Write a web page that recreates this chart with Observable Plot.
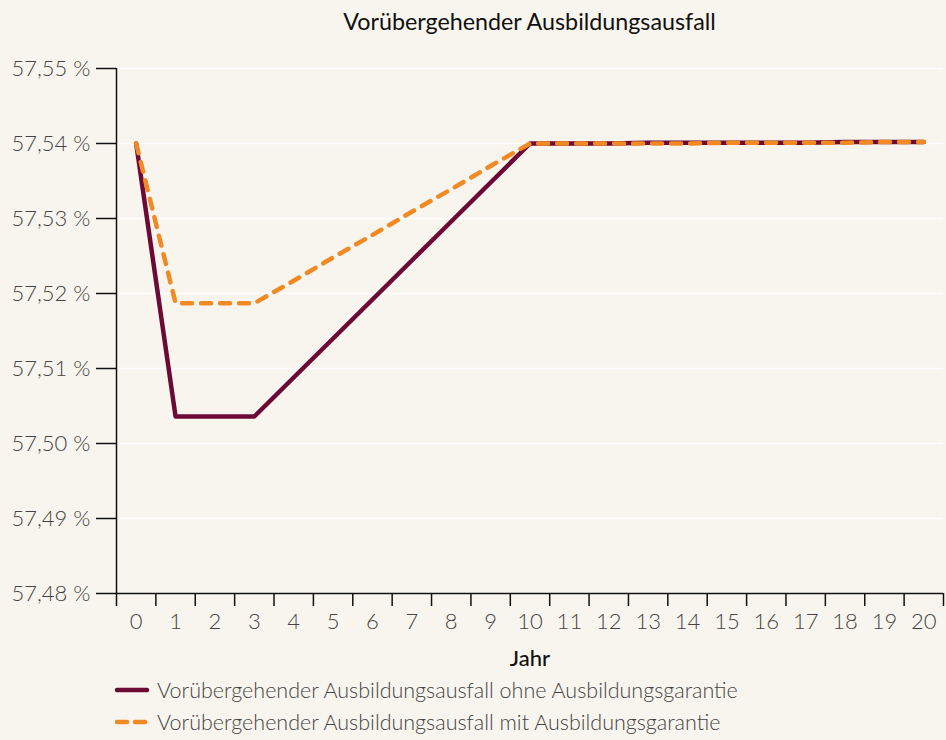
<!DOCTYPE html>
<html><head><meta charset="utf-8">
<script src="https://cdn.jsdelivr.net/npm/d3@7"></script>
<script src="https://cdn.jsdelivr.net/npm/@observablehq/plot@0.6"></script>
<style>
body{margin:0;background:#f8f5ee;font-family:Lato,"Noto Sans",sans-serif;}
#wrap{width:946px;height:740px;position:relative;background:#f8f5ee;}
#title{position:absolute;left:116px;width:827px;top:7px;text-align:center;font-size:23.3px;color:#111;}
#chart{position:absolute;left:0;top:40px;}
.leg{position:absolute;left:115px;font-size:21.5px;color:#444;font-weight:300;display:flex;align-items:center;}
.leg svg{margin-right:8px;}
</style></head>
<body><div id="wrap">
<div id="title">Vorübergehender Ausbildungsausfall</div>
<div id="chart"></div>
<div class="leg" style="top:677px"><svg width="34" height="26"><line x1="2" y1="13" x2="32" y2="13" stroke="#6b0a35" stroke-width="4.5" stroke-linecap="round"/></svg><span>Vorübergehender Ausbildungsausfall ohne Ausbildungsgarantie</span></div>
<div class="leg" style="top:709px"><svg width="34" height="26"><line x1="2" y1="13" x2="32" y2="13" stroke="#f08a24" stroke-width="4.5" stroke-linecap="round" stroke-dasharray="10,8"/></svg><span>Vorübergehender Ausbildungsausfall mit Ausbildungsgarantie</span></div>
</div>
<script>
const years = [0,1,2,3,4,5,6,7,8,9,10,11,12,13,14,15,16,17,18,19,20];
const ohne = [57.5400,57.5036,57.5036,57.5036,57.5088,57.5140,57.5192,57.5244,57.5296,57.5348,57.5400,57.5400,57.5400,57.5401,57.5401,57.5401,57.5401,57.5401,57.5402,57.5402,57.5402];
const mit  = [57.5400,57.5187,57.5187,57.5187,57.5217,57.5248,57.5278,57.5309,57.5339,57.5370,57.5400,57.5400,57.5400,57.5400,57.5400,57.5401,57.5401,57.5401,57.5401,57.5402,57.5402];
const yTicks = [57.48,57.49,57.50,57.51,57.52,57.53,57.54,57.55];
const sepTicks = d3.range(-0.5, 21, 1);

const dOhne = years.map((x,i)=>({x, y: ohne[i]}));
const dMit = years.map((x,i)=>({x, y: mit[i]}));

const plot = Plot.plot({
  width: 946, height: 640,
  marginLeft: 116, marginRight: 3, marginTop: 28, marginBottom: 87,
  style: {background: "transparent", fontFamily: "Lato, 'Noto Sans', sans-serif", fontSize: "22px", color: "#444"},
  x: {domain: [-0.5, 20.5]},
  y: {domain: [57.48, 57.55]},
  marks: [
    Plot.gridY(yTicks, {stroke: "#ffffff", strokeOpacity: 1, strokeWidth: 1.5}),
    Plot.axisY(yTicks, {tickSize: 20, tickPadding: 6, stroke: "#111", strokeWidth: 1.5, fill: "#444", fontSize: 22, fontWeight: 300,
      tickFormat: d => d.toFixed(2).replace(".", ",") + " %", label: null}),
    Plot.axisX(sepTicks, {tickSize: 13, stroke: "#111", strokeWidth: 1.5, tickFormat: () => "", label: null}),
    Plot.axisX(years, {tickSize: 0, tickPadding: 20, fill: "#444", fontSize: 22, fontWeight: 300, tickFormat: d => String(d), label: null}),
    Plot.ruleY([57.48], {stroke: "#111", strokeWidth: 1.5}),
    Plot.ruleX([-0.5], {stroke: "#111", strokeWidth: 1.5}),
    Plot.text(["Jahr"], {frameAnchor: "bottom", dy: 65, fill: "#111", fontSize: 22, fontWeight: 500, lineAnchor: "middle"}),
    Plot.line(dOhne, {x: "x", y: "y", stroke: "#6b0a35", strokeWidth: 4.5, strokeLinecap: "round", strokeLinejoin: "round"}),
    Plot.line(dMit, {x: "x", y: "y", stroke: "#f08a24", strokeWidth: 4.5, strokeDasharray: "10,9", strokeLinecap: "round", strokeLinejoin: "round"})
  ]
});
document.getElementById("chart").appendChild(plot);
</script>
</body></html>
